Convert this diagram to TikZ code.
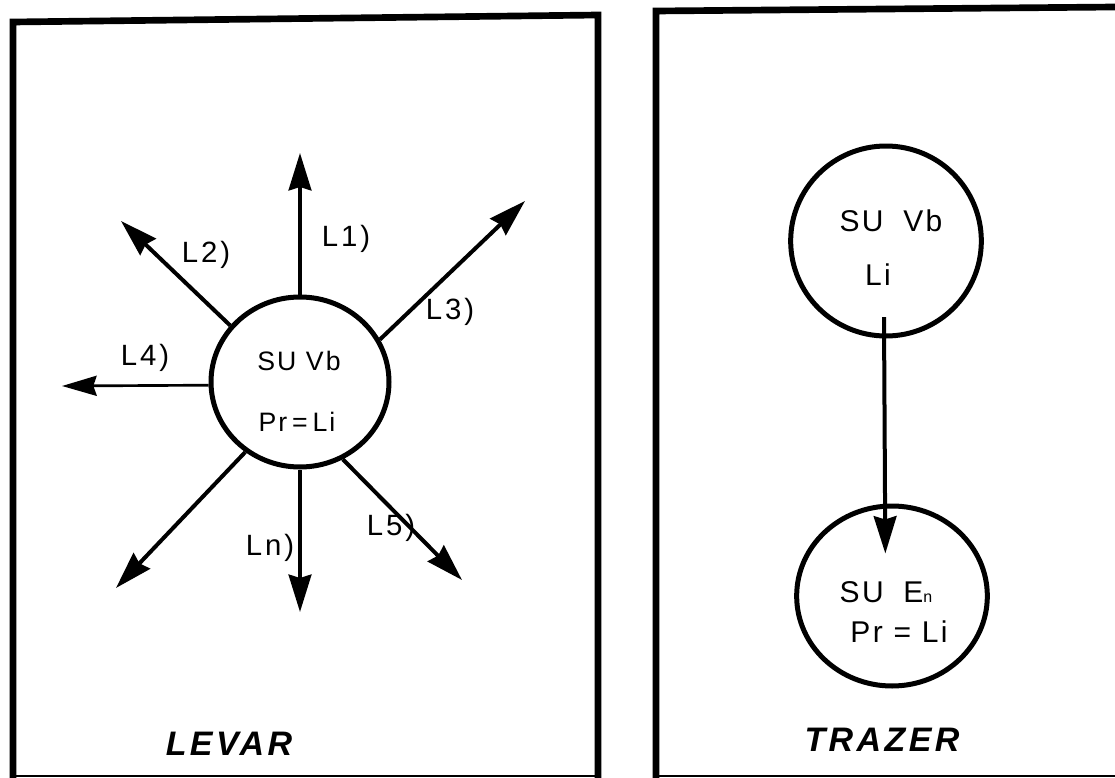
\documentclass[tikz,border=0pt]{standalone}
\usepackage{fontspec}
\setmainfont{Liberation Sans}
\newfontfamily\lblfont[LetterSpace=10]{Liberation Sans}
\newfontfamily\innerfont[LetterSpace=8]{Liberation Sans}
\newfontfamily\titlefont[LetterSpace=10]{Liberation Sans}
\usetikzlibrary{arrows.meta,shapes.geometric}
\tikzset{
  frame/.style={line width=5pt},
  thinframe/.style={line width=1.2pt},
  bub/.style={draw, ellipse, line width=3.75pt, inner sep=0pt},
  arr/.style={line width=3pt, -{Stealth[length=28pt,width=17pt,inset=2.5pt]}},
  thinarr/.style={line width=2pt, -{Stealth[length=26pt,width=15pt,inset=2.5pt]}},
  lbl/.style={inner sep=0pt, font=\lblfont\fontsize{22}{26}\selectfont},
  intxt/.style={inner sep=0pt, font=\innerfont\fontsize{20}{24}\selectfont},
  intxtb/.style={inner sep=0pt, font=\innerfont\fontsize{22.5}{26}\selectfont},
  ttl/.style={inner sep=0pt, font=\titlefont\fontsize{25.5}{30}\selectfont\bfseries\itshape}
}
\begin{document}
\begin{tikzpicture}[x=0.75pt,y=-0.75pt]
\useasboundingbox (0,0) rectangle (1115,778);
% frames
\draw[frame] (13,778) -- (13,22) -- (598,15) -- (598,778);
\draw[frame] (656,778) -- (656,11) -- (1115,7);
\draw[thinframe] (13,776) -- (598,776);
\draw[thinframe] (656,776) -- (1115,776);
% LEVAR
\node[bub, minimum width=133.5pt, minimum height=127.5pt] (c) at (300,382) {};
\node[intxt] (ct1) at (299,361) {SU Vb};
\node[intxt] (ct2) at (297,422) {Pr\hspace{0.18em}=\hspace{0.18em}Li};
\coordinate (t1) at (300,153);
\coordinate (t2) at (121,221);
\coordinate (t3) at (525,201);
\coordinate (t4) at (62,386);
\coordinate (t6) at (116,588);
\coordinate (tn) at (300,612);
\coordinate (t5) at (462,580);
\draw[arr] (c.90) -- (t1);
\draw[arr] (c.141) -- (t2);
\draw[arr] (c.28) -- (t3);
\draw[thinarr] (c.182) -- (t4);
\draw[arr] (c.232) -- (t6);
\draw[arr] (c.270) -- (tn);
\draw[arr] (c.299) -- (t5);
\node[lbl] (l1) at (346,239) {L1)};
\node[lbl] (l2) at (206,255) {L2)};
\node[lbl] (l3) at (450,312) {L3)};
\node[lbl] (l4) at (145,358) {L4)};
\node[lbl] (ln) at (270,548) {Ln)};
\node[lbl] (l5) at (391,528) {L5)};
\node[ttl] (levar) at (229,744) {LEVAR};
% TRAZER
\node[bub, minimum width=143pt, minimum height=142.5pt] (c1) at (886,241) {};
\node[bub, minimum width=143pt, minimum height=135pt] (c2) at (892,596) {};
\node[intxtb] (c1t1) at (891,221) {SU\hspace{0.3em} Vb};
\node[intxtb] (c1t2) at (878,275) {Li};
\node[intxtb] (c2t1) at (886,592) {SU\hspace{0.3em} E{\fontsize{12}{14}\selectfont n}};
\node[intxtb] (c2t2) at (899,632) {Pr = Li};
\draw[arr] ([yshift=16pt,xshift=-1.5pt]c1.south) -- ([yshift=-37.5pt,xshift=-5pt]c2.north);
\node[ttl] (trazer) at (882,740) {TRAZER};
\end{tikzpicture}
\end{document}
